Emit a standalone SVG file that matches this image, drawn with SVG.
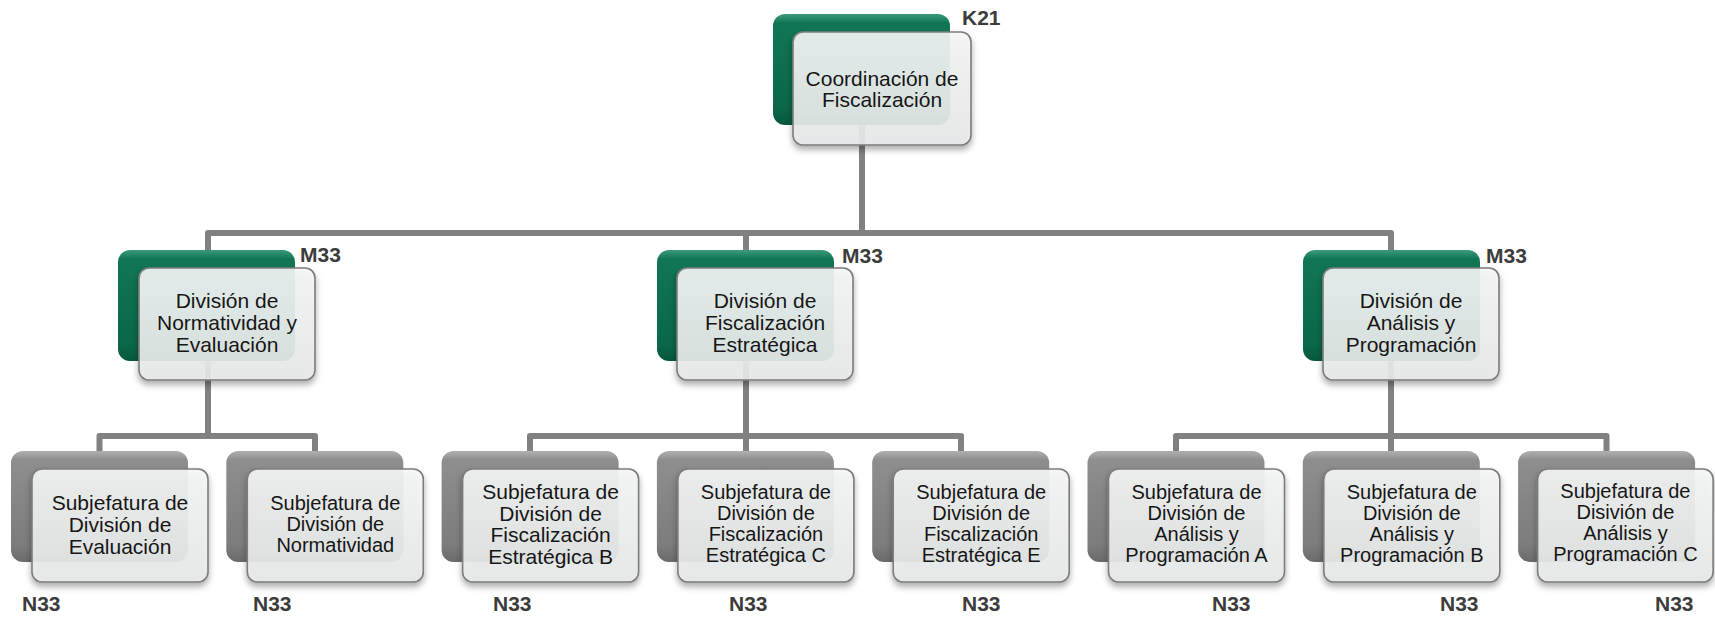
<svg xmlns="http://www.w3.org/2000/svg" width="1715" height="617" viewBox="0 0 1715 617">
<defs>
<linearGradient id="gGreen" x1="0" y1="0" x2="0" y2="1">
<stop offset="0" stop-color="#3a9c7c"/>
<stop offset="0.08" stop-color="#107556"/>
<stop offset="0.85" stop-color="#0a6749"/>
<stop offset="1" stop-color="#06583e"/>
</linearGradient>
<linearGradient id="gGray" x1="0" y1="0" x2="0" y2="1">
<stop offset="0" stop-color="#b0b0b0"/>
<stop offset="0.08" stop-color="#8e8e8e"/>
<stop offset="0.85" stop-color="#7c7c7c"/>
<stop offset="1" stop-color="#6a6a6a"/>
</linearGradient>
<linearGradient id="gFront" x1="0" y1="0" x2="0" y2="1">
<stop offset="0" stop-color="#f5f7f7"/>
<stop offset="1" stop-color="#e7eaea"/>
</linearGradient>
<filter id="sh" x="-10%" y="-10%" width="120%" height="130%">
<feDropShadow dx="0" dy="4" stdDeviation="3" flood-color="#000" flood-opacity="0.35"/>
</filter>
</defs>
<style>
.conn{fill:none;stroke:#818181;stroke-width:6;stroke-linejoin:round}
.bg{fill:url(#gGreen)}
.bk{fill:url(#gGray)}
.fr{fill:url(#gFront);fill-opacity:0.9;stroke:#7c7c7c;stroke-width:1.6;filter:url(#sh)}
.t{font-family:"Liberation Sans",Arial,sans-serif;font-size:21px;fill:#161616;text-anchor:middle}
.t4{font-size:20px}
.lb{font-family:"Liberation Sans",Arial,sans-serif;font-size:21px;font-weight:bold;fill:#3c3c3c}
</style>
<g id="connectors">
<path class="conn" d="M862,120 V233"/>
<path class="conn" d="M208,255 V233 H1391 V255"/>
<path class="conn" d="M746,233 V255"/>
<path class="conn" d="M208,300 V436"/>
<path class="conn" d="M99.5,455 V436 H315 V455"/>
<path class="conn" d="M746,300 V436"/>
<path class="conn" d="M530,455 V436 H961 V455"/>
<path class="conn" d="M746,436 V455"/>
<path class="conn" d="M1391,300 V436"/>
<path class="conn" d="M1176,455 V436 H1606.5 V455"/>
<path class="conn" d="M1391,436 V455"/>
</g>
<g id="n-top">
<rect class="bg" x="773" y="14" width="177" height="111" rx="12"/>
<rect class="fr" x="793" y="32" width="178" height="113" rx="10"/>
<text class="t"><tspan x="882" y="86">Coordinación de</tspan><tspan x="882" y="107">Fiscalización</tspan></text>
<text class="lb" x="962" y="25">K21</text>
</g>
<g id="n-l2a">
<rect class="bg" x="118" y="250" width="177" height="111" rx="12"/>
<rect class="fr" x="139" y="268" width="176" height="112" rx="10"/>
<text class="t"><tspan x="227" y="308">División de</tspan><tspan x="227" y="330">Normatividad y</tspan><tspan x="227" y="352">Evaluación</tspan></text>
<text class="lb" x="300" y="262">M33</text>
</g>
<g id="n-l2b">
<rect class="bg" x="657" y="250" width="177" height="111" rx="12"/>
<rect class="fr" x="677" y="268" width="176" height="112" rx="10"/>
<text class="t"><tspan x="765" y="308">División de</tspan><tspan x="765" y="330">Fiscalización</tspan><tspan x="765" y="352">Estratégica</tspan></text>
<text class="lb" x="842" y="263">M33</text>
</g>
<g id="n-l2c">
<rect class="bg" x="1303" y="250" width="177" height="111" rx="12"/>
<rect class="fr" x="1323" y="268" width="176" height="112" rx="10"/>
<text class="t"><tspan x="1411" y="308">División de</tspan><tspan x="1411" y="330">Análisis y</tspan><tspan x="1411" y="352">Programación</tspan></text>
<text class="lb" x="1486" y="263">M33</text>
</g>
<g id="n-s1">
<rect class="bk" x="11" y="451" width="177" height="111" rx="12"/>
<rect class="fr" x="32" y="469" width="176" height="113" rx="10"/>
<text class="t"><tspan x="120" y="510">Subjefatura de</tspan><tspan x="120" y="532">División de</tspan><tspan x="120" y="554">Evaluación</tspan></text>
<text class="lb" x="22" y="611">N33</text>
</g>
<g id="n-s2">
<rect class="bk" x="226.3" y="451" width="177" height="111" rx="12"/>
<rect class="fr" x="247.3" y="469" width="176" height="113" rx="10"/>
<text class="t t4"><tspan x="335.3" y="510">Subjefatura de</tspan><tspan x="335.3" y="531">División de</tspan><tspan x="335.3" y="552">Normatividad</tspan></text>
<text class="lb" x="253" y="611">N33</text>
</g>
<g id="n-s3">
<rect class="bk" x="441.6" y="451" width="177" height="111" rx="12"/>
<rect class="fr" x="462.6" y="469" width="176" height="113" rx="10"/>
<text class="t"><tspan x="550.6" y="499">Subjefatura de</tspan><tspan x="550.6" y="520.5">División de</tspan><tspan x="550.6" y="542">Fiscalización</tspan><tspan x="550.6" y="563.5">Estratégica B</tspan></text>
<text class="lb" x="493" y="611">N33</text>
</g>
<g id="n-s4">
<rect class="bk" x="656.9" y="451" width="177" height="111" rx="12"/>
<rect class="fr" x="677.9" y="469" width="176" height="113" rx="10"/>
<text class="t t4"><tspan x="765.9" y="499">Subjefatura de</tspan><tspan x="765.9" y="520">División de</tspan><tspan x="765.9" y="541">Fiscalización</tspan><tspan x="765.9" y="562">Estratégica C</tspan></text>
<text class="lb" x="729" y="611">N33</text>
</g>
<g id="n-s5">
<rect class="bk" x="872.2" y="451" width="177" height="111" rx="12"/>
<rect class="fr" x="893.2" y="469" width="176" height="113" rx="10"/>
<text class="t t4"><tspan x="981.2" y="499">Subjefatura de</tspan><tspan x="981.2" y="520">División de</tspan><tspan x="981.2" y="541">Fiscalización</tspan><tspan x="981.2" y="562">Estratégica E</tspan></text>
<text class="lb" x="962" y="611">N33</text>
</g>
<g id="n-s6">
<rect class="bk" x="1087.5" y="451" width="177" height="111" rx="12"/>
<rect class="fr" x="1108.5" y="469" width="176" height="113" rx="10"/>
<text class="t t4"><tspan x="1196.5" y="499">Subjefatura de</tspan><tspan x="1196.5" y="520">División de</tspan><tspan x="1196.5" y="541">Análisis y</tspan><tspan x="1196.5" y="562">Programación A</tspan></text>
<text class="lb" x="1212" y="611">N33</text>
</g>
<g id="n-s7">
<rect class="bk" x="1302.8" y="451" width="177" height="111" rx="12"/>
<rect class="fr" x="1323.8" y="469" width="176" height="113" rx="10"/>
<text class="t t4"><tspan x="1411.8" y="499">Subjefatura de</tspan><tspan x="1411.8" y="520">División de</tspan><tspan x="1411.8" y="541">Análisis y</tspan><tspan x="1411.8" y="562">Programación B</tspan></text>
<text class="lb" x="1440" y="611">N33</text>
</g>
<g id="n-s8">
<rect class="bk" x="1518.1" y="451" width="177" height="111" rx="12"/>
<rect class="fr" x="1537.6" y="469" width="175.5" height="113" rx="10"/>
<text class="t t4"><tspan x="1625.4" y="498">Subjefatura de</tspan><tspan x="1625.4" y="519">Disivión de</tspan><tspan x="1625.4" y="540">Análisis y</tspan><tspan x="1625.4" y="561">Programación C</tspan></text>
<text class="lb" x="1655" y="611">N33</text>
</g>
</svg>
